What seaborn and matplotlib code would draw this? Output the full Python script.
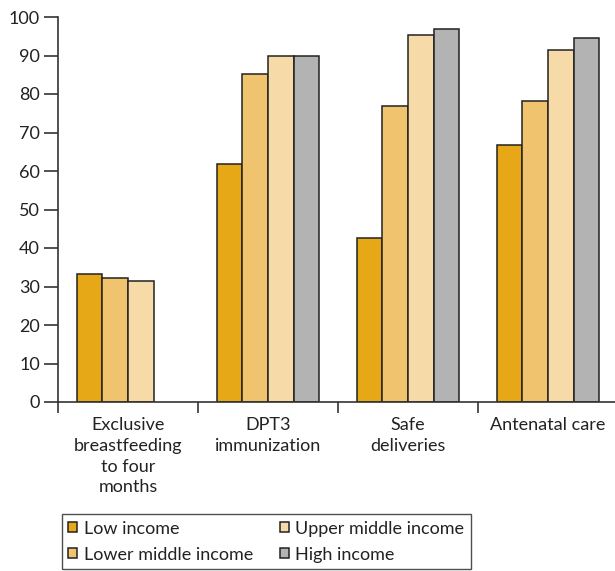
import numpy as np
import pandas as pd
import matplotlib
matplotlib.use("Agg")
import matplotlib.pyplot as plt
import seaborn as sns

# Coverage of health interventions (%) by country income group
categories = [
    "Exclusive\nbreastfeeding\nto four\nmonths",
    "DPT3\nimmunization",
    "Safe\ndeliveries",
    "Antenatal care",
]
groups = ["Low income", "Lower middle income", "Upper middle income", "High income"]
low_income = [33.2, 61.7, 42.7, 66.8]
lower_middle_income = [32.2, 85.1, 76.9, 78.3]
upper_middle_income = [31.5, 90.0, 95.4, 91.3]
high_income = [np.nan, 89.9, 97.0, 94.6]
y_ticks = [0, 10, 20, 30, 40, 50, 60, 70, 80, 90, 100]

colors = ["#E6A817", "#F0C46E", "#F6DAA8", "#B3B3B3"]

sns.set_theme(style="white")
plt.rcParams["font.family"] = ["Lato", "DejaVu Sans"]

rows = []
for g, vals in zip(groups, [low_income, lower_middle_income, upper_middle_income, high_income]):
    for c, v in zip(categories, vals):
        rows.append({"category": c, "group": g, "value": v})
df = pd.DataFrame(rows).dropna()

fig = plt.figure(figsize=(6.15, 5.71), dpi=100)
ax = fig.add_axes([58 / 615, 1 - 402 / 571, 560 / 615, (402 - 17) / 571])

sns.barplot(
    data=df, x="category", y="value", hue="group",
    order=categories, hue_order=groups, palette=colors,
    width=0.73, edgecolor="#222222", linewidth=1.1,
    saturation=1, ax=ax, legend=True,
)

ax.set_xlim(-0.5, 3.5)
ax.set_ylim(0, 100)
ax.set_yticks(y_ticks)
ax.set_xlabel("")
ax.set_ylabel("")

for side in ["top", "right"]:
    ax.spines[side].set_visible(False)
for side in ["left", "bottom"]:
    ax.spines[side].set_color("#333333")
    ax.spines[side].set_linewidth(1.2)

text_color = "#222222"
fs = 13
ax.tick_params(axis="y", direction="out", length=10, width=1.2, color="#333333",
               labelsize=fs, labelcolor=text_color, pad=3, left=True)
ax.tick_params(axis="x", which="major", length=0, labelsize=fs,
               labelcolor=text_color, pad=11)
ax.set_xticks(np.arange(-0.5, 4.0, 1.0), minor=True)
ax.tick_params(axis="x", which="minor", direction="out", length=8, width=1.2,
               color="#333333", bottom=True)
for lbl in ax.get_xticklabels():
    lbl.set_linespacing(1.36)
    lbl.set_verticalalignment("top")

handles, labels = ax.get_legend_handles_labels()
ax.get_legend().remove()
leg = fig.legend(
    handles, labels, ncol=2, loc="lower left",
    bbox_to_anchor=(62 / 615, 2 / 571), bbox_transform=fig.transFigure,
    frameon=True, fancybox=False, edgecolor="#222222", fontsize=fs,
    handlelength=0.5, handleheight=0.5, handletextpad=0.35,
    columnspacing=1.5, labelspacing=0.55, borderpad=0.35, borderaxespad=0,
)
leg.get_frame().set_linewidth(1.0)
for t in leg.get_texts():
    t.set_color(text_color)

fig.savefig("out.png", dpi=100)
